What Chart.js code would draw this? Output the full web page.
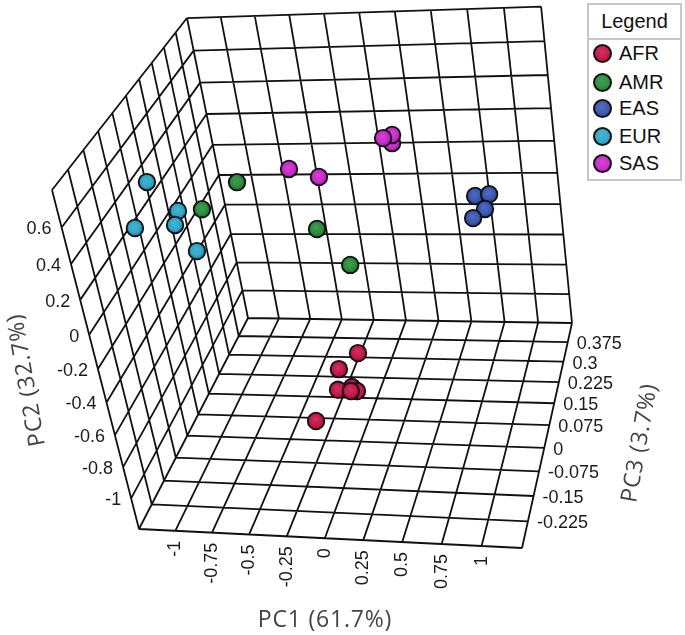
<!DOCTYPE html>
<html>
<head>
<meta charset="utf-8">
<title>PCA 3D</title>
<script src="https://cdn.jsdelivr.net/npm/chart.js@4"></script>
<style>
  html, body { margin: 0; padding: 0; background: #fff; }
  #wrap { position: relative; width: 685px; height: 635px; overflow: hidden; }
  #legend { position: absolute; left: 587px; top: 3px; width: 91px; height: 174px; border: 2px solid #c6c6c6;
    font: 20px "Liberation Sans", Arial, sans-serif; color: #111; background: #fff; }
  #legend .head { height: 33px; line-height: 32px; text-align: center; border-bottom: 2px solid #c6c6c6; }
  #legend .row { position: absolute; left: 4px; height: 20px; line-height: 20px; white-space: nowrap; }
  #legend .dot { display: inline-block; width: 15px; height: 15px; border-radius: 50%; border: 2px solid #111;
    vertical-align: -3px; margin-right: 7px; }
</style>
</head>
<body>
<div id="wrap">
  <canvas id="myChart" width="685" height="635"></canvas>
  <div id="legend"></div>
</div>
<script>
const groups = ['AFR', 'AMR', 'EAS', 'EUR', 'SAS'];
const groupColors = ['#c8174a', '#2c8f3e', '#3c58b4', '#2fa9cb', '#cc2ccc'];

// values (the depth axis is a best guess)
const afrPC1 = [-0.082, -0.196, -0.082, -0.034, -0.141, -0.008, -0.196];
const afrPC2 = [-0.896, -0.936, -0.984, -0.981, -0.934, -0.867, -0.922];
const afrPC3 = [0.15, 0.112, 0.075, 0.06, 0.038, 0, -0.075];

const amrPC1 = [-0.667, -0.734, -0.133, 0.091];
const amrPC2 = [0.24, 0.303, 0.014, -0.143];
const amrPC3 = [0.112, -0.038, 0.075, 0.038];

const easPC1 = [0.763, 0.889, 0.877, 0.76];
const easPC2 = [-0.126, -0.059, -0.094, -0.206];
const easPC3 = [0.3, 0.262, 0.225, 0.262];

const eurPC1 = [-0.888, -0.842, -0.882, -0.973, -0.828];
const eurPC2 = [0.622, 0.349, 0.268, 0.425, 0.057];
const eurPC3 = [-0.15, -0.075, -0.075, -0.188, -0.038];

const sasPC1 = [0.275, 0.247, 0.254, -0.386, -0.145];
const sasPC2 = [0.254, 0.251, 0.335, 0.208, 0.213];
const sasPC3 = [0.262, 0.3, 0.225, 0.188, 0.15];

const seriesPC1 = [afrPC1, amrPC1, easPC1, eurPC1, sasPC1];
const seriesPC2 = [afrPC2, amrPC2, easPC2, eurPC2, sasPC2];
const seriesPC3 = [afrPC3, amrPC3, easPC3, eurPC3, sasPC3];

const pc1Ticks = [-1.25, -1, -0.75, -0.5, -0.25, 0, 0.25, 0.5, 0.75, 1, 1.25];
const pc2Ticks = [-1.2, -1, -0.8, -0.6, -0.4, -0.2, 0, 0.2, 0.4, 0.6, 0.8];
const pc3Ticks = [-0.3, -0.225, -0.15, -0.075, 0, 0.075, 0.15, 0.225, 0.3, 0.375, 0.45];

const pc1Labels = ['-1', '-0.75', '-0.5', '-0.25', '0', '0.25', '0.5', '0.75', '1'];
const pc2Labels = ['-1', '-0.8', '-0.6', '-0.4', '-0.2', '0', '0.2', '0.4', '0.6'];
const pc3Labels = ['-0.225', '-0.15', '-0.075', '0', '0.075', '0.15', '0.225', '0.3', '0.375'];

// camera: where the corners of the box land on the page
const frontLeft = [139, 529], frontRight = [522, 548], backRight = [572, 323], backLeft = [248, 318];
const topFront = [52, 190], topBack = [187, 18];

function solve2(p, q, r) {
  const det = p[0] * q[1] - p[1] * q[0];
  return [(r[0] * q[1] - r[1] * q[0]) / det, (p[0] * r[1] - p[1] * r[0]) / det];
}
function sub(a, b) { return [a[0] - b[0], a[1] - b[1]]; }

const [kU, kW] = solve2(sub(frontRight, backRight), sub(backLeft, backRight), sub(frontLeft, backRight));
const kV = solve2(sub(topFront, topBack), sub(backLeft, topBack), sub(frontLeft, topBack))[0];

function project(pc1, pc2, pc3) {
  const u = (pc1 - pc1Ticks[0]) / (pc1Ticks[10] - pc1Ticks[0]);
  const v = (pc2 - pc2Ticks[0]) / (pc2Ticks[10] - pc2Ticks[0]);
  const w = (pc3 - pc3Ticks[0]) / (pc3Ticks[10] - pc3Ticks[0]);
  const o = frontLeft;
  const h = 1 + u * (kU - 1) + v * (kV - 1) + w * (kW - 1);
  return {
    x: (o[0] + u * (kU * frontRight[0] - o[0]) + v * (kV * topFront[0] - o[0]) + w * (kW * backLeft[0] - o[0])) / h,
    y: (o[1] + u * (kU * frontRight[1] - o[1]) + v * (kV * topFront[1] - o[1]) + w * (kW * backLeft[1] - o[1])) / h
  };
}

// three walls of the box, one polyline with gaps
const pc1Min = pc1Ticks[0], pc1Max = pc1Ticks[10];
const pc2Min = pc2Ticks[0], pc2Max = pc2Ticks[10];
const pc3Min = pc3Ticks[0], pc3Max = pc3Ticks[10];
const gridData = [];
function addLine(a, b) {
  gridData.push(project(a[0], a[1], a[2]), project(b[0], b[1], b[2]), { x: NaN, y: NaN });
}
pc1Ticks.forEach(t => {
  addLine([t, pc2Min, pc3Min], [t, pc2Min, pc3Max]);
  addLine([t, pc2Min, pc3Max], [t, pc2Max, pc3Max]);
});
pc2Ticks.forEach(t => {
  addLine([pc1Min, t, pc3Max], [pc1Max, t, pc3Max]);
  addLine([pc1Min, t, pc3Min], [pc1Min, t, pc3Max]);
});
pc3Ticks.forEach(t => {
  addLine([pc1Min, pc2Min, t], [pc1Max, pc2Min, t]);
  addLine([pc1Min, pc2Min, t], [pc1Min, pc2Max, t]);
});

function shade(hex, f) {
  const n = parseInt(hex.slice(1), 16);
  const mix = c => Math.round(f > 0 ? c + (255 - c) * f : c * (1 + f));
  return `rgb(${mix(n >> 16)},${mix((n >> 8) & 255)},${mix(n & 255)})`;
}

function sphereFill(color) {
  return function (c) {
    if (c.type !== 'data' || !c.parsed) return color;
    const px = c.chart.scales.x.getPixelForValue(c.parsed.x);
    const py = c.chart.scales.y.getPixelForValue(c.parsed.y);
    if (!isFinite(px) || !isFinite(py)) return color; // scales not laid out yet
    const g = c.chart.ctx.createRadialGradient(px - 1, py - 2, 0, px, py, 9);
    g.addColorStop(0, shade(color, 0.12));
    g.addColorStop(0.6, color);
    g.addColorStop(1, shade(color, -0.35));
    return g;
  };
}

const datasets = [{
  label: 'grid',
  data: gridData,
  showLine: true,
  spanGaps: false,
  borderColor: '#111',
  borderWidth: 1.8,
  pointRadius: 0,
  order: 10
}];
groups.forEach((name, i) => {
  datasets.push({
    label: name,
    data: seriesPC1[i].map((p, j) => project(p, seriesPC2[i][j], seriesPC3[i][j])),
    pointRadius: 8.3,
    pointHoverRadius: 8.3,
    pointBorderWidth: 1.8,
    pointBorderColor: '#111',
    pointBackgroundColor: sphereFill(groupColors[i]),
    order: 5 - i
  });
});

const tickFont = '18px "Liberation Sans", Arial, sans-serif';
const titleFont = '23px "Open Sans", sans-serif';

function drawTitle(ctx, text, x, y, angle) {
  ctx.save();
  ctx.translate(x, y);
  ctx.rotate(angle * Math.PI / 180);
  ctx.font = titleFont;
  ctx.letterSpacing = '0.8px';
  ctx.fillStyle = '#444';
  ctx.textAlign = 'center';
  ctx.textBaseline = 'middle';
  ctx.fillText(text, 0, 0);
  ctx.restore();
}

const axisText = {
  id: 'axisText',
  afterDraw(chart) {
    const ctx = chart.ctx;
    const sx = chart.scales.x, sy = chart.scales.y;
    ctx.save();
    ctx.font = tickFont;
    ctx.fillStyle = '#1a1a1a';
    ctx.textBaseline = 'middle';

    ctx.textAlign = 'right';
    pc2Labels.forEach(l => {
      const p = project(pc1Min, parseFloat(l), pc3Min);
      ctx.fillText(l, sx.getPixelForValue(p.x) - 10, sy.getPixelForValue(p.y) + 2);
    });
    ctx.textAlign = 'left';
    pc3Labels.forEach(l => {
      const p = project(pc1Max, pc2Min, parseFloat(l));
      ctx.fillText(l, sx.getPixelForValue(p.x) + 9, sy.getPixelForValue(p.y) + 2);
    });
    pc1Labels.forEach(l => {
      const p = project(parseFloat(l), pc2Min, pc3Min);
      ctx.save();
      ctx.translate(sx.getPixelForValue(p.x), sy.getPixelForValue(p.y) + 10);
      ctx.rotate(-Math.PI / 2);
      ctx.textAlign = 'right';
      ctx.fillText(l, 0, 0);
      ctx.restore();
    });
    ctx.restore();

    drawTitle(ctx, 'PC1 (61.7%)', 325, 620, 0);
    drawTitle(ctx, 'PC2 (32.7%)', 27, 380, -100);
    drawTitle(ctx, 'PC3 (3.7%)', 640, 443, -80);
  }
};

const ctx = document.getElementById('myChart').getContext('2d');
const chart = new Chart(ctx, {
  type: 'scatter',
  data: { datasets: datasets },
  options: {
    responsive: false,
    animation: false,
    layout: { padding: 0, autoPadding: false },
    plugins: { legend: { display: false }, tooltip: { enabled: false } },
    scales: {
      x: { type: 'linear', display: false, min: 0, max: 685 },
      y: { type: 'linear', display: false, min: 0, max: 635, reverse: true }
    }
  },
  plugins: [axisText]
});

// legend box
const legendDiv = document.getElementById('legend');
const rowTops = [38, 67, 93, 121, 148];
legendDiv.innerHTML = '<div class="head">Legend</div>' + groups.map((name, i) =>
  `<div class="row" style="top:${rowTops[i]}px"><span class="dot" style="background:radial-gradient(circle at 45% 40%, ${shade(groupColors[i], 0.12)}, ${groupColors[i]} 60%, ${shade(groupColors[i], -0.35)})"></span>${name}</div>`
).join('');
</script>
</body>
</html>
